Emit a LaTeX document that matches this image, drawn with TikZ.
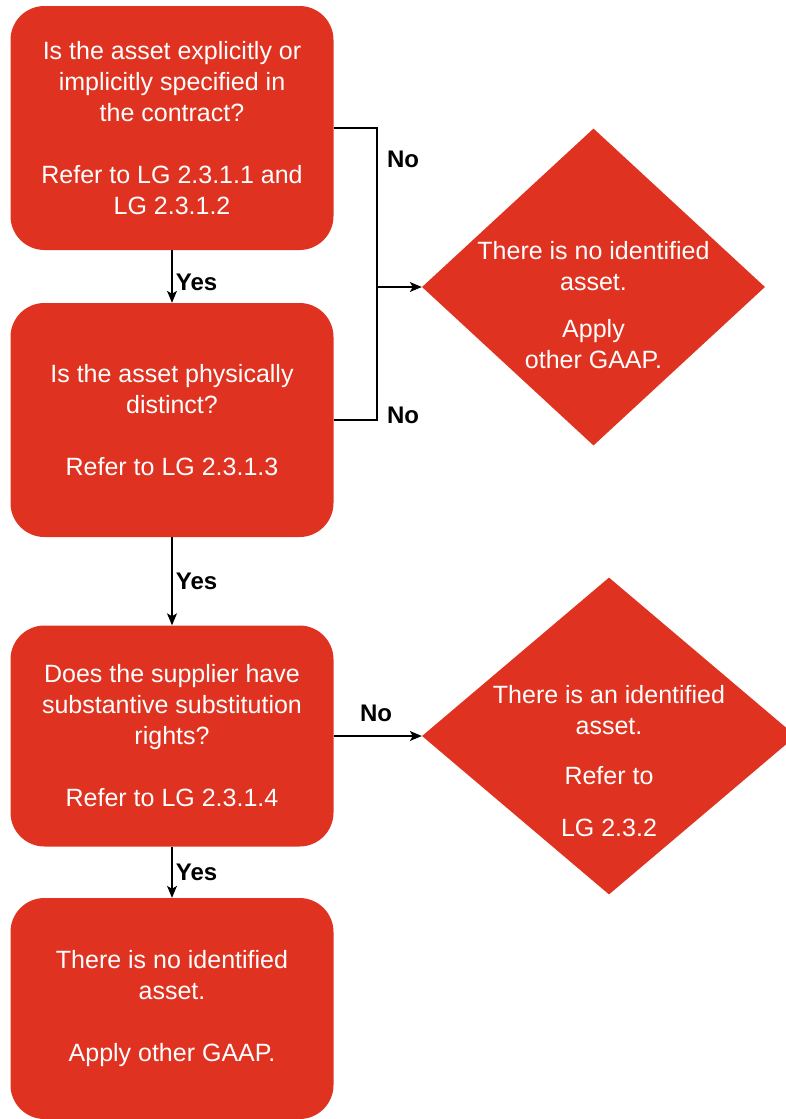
\documentclass[tikz,border=0pt]{standalone}
\usepackage{fontspec}
\setmainfont{Liberation Sans}
\usetikzlibrary{arrows.meta,shapes.geometric}
\definecolor{boxred}{RGB}{224,50,32}
\tikzset{
  qbox/.style={rectangle, rounded corners=34pt, fill=boxred, text=white, align=center,
    minimum width=323pt, inner sep=0pt, font=\fontsize{25}{31}\selectfont},
  dshape/.style={diamond, fill=boxred, inner sep=0pt},
  dtext/.style={text=white, align=center, font=\fontsize{25}{31}\selectfont},
  lbl/.style={font=\bfseries\fontsize{24}{28}\selectfont},
  wire/.style={line width=1.2pt},
  link/.style={wire, -{Stealth[length=12pt,width=10pt,inset=3pt]}}
}

\begin{document}
\begin{tikzpicture}[x=1pt, y=-1pt]
\useasboundingbox (0,0) rectangle (786,1119);
% left column
\node[qbox, minimum height=244pt] (q1) at (172,128) {Is the asset explicitly or\\implicitly specified in\\the contract?\\[31pt]Refer to LG 2.3.1.1 and\\LG 2.3.1.2};
\node[qbox, minimum height=234pt] (q2) at (172,420) {Is the asset physically\\distinct?\\[31pt]Refer to LG 2.3.1.3};
\node[qbox, minimum height=221pt] (q3) at (172,736) {Does the supplier have\\substantive substitution\\rights?\\[31pt]Refer to LG 2.3.1.4};
\node[qbox, minimum height=221pt] (r4) at (172,1008.5) {There is no identified\\asset.\\[31pt]Apply other GAAP.};
% right column
\node[dshape, minimum width=343pt, minimum height=317pt] (d1) at (593.5,287) {};
\node[dtext] (t1) at ([yshift=-18pt]d1.center) {There is no identified\\asset.\\[16pt]Apply\\other GAAP.};
\node[dshape, minimum width=374pt, minimum height=317pt] (d2) at (609,736) {};
\node[dtext] (t2) at ([yshift=-25pt]d2.center) {There is an identified\\asset.\\[19pt]Refer to\\[21pt]LG 2.3.2};
% connectors
\draw[link] (q1.south) -- node[lbl, right, pos=0.62] (y1) {Yes} (q2.north);
\draw[link] (q2.south) -- node[lbl, right] (y2) {Yes} (q3.north);
\draw[link] (q3.south) -- node[lbl, right] (y3) {Yes} (r4.north);
\coordinate (join) at (377,287);
\draw[wire] (q1.east) -| (join);
\draw[wire] (q2.east) -| (join);
\draw[link] (join) -- (d1.west);
\draw[link] (q3.east) -- (d2.west);
\node[lbl] (no1) at (403,159) {No};
\node[lbl] (no2) at (403,415) {No};
\node[lbl] (no3) at (376,713) {No};
\end{tikzpicture}
\end{document}
